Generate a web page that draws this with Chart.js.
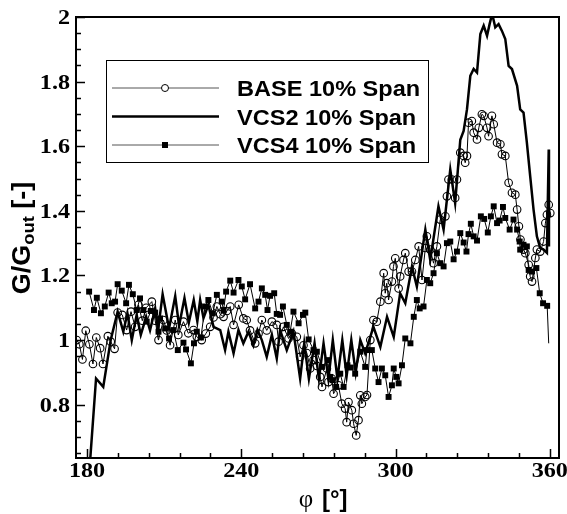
<!DOCTYPE html>
<html>
<head>
<meta charset="utf-8">
<script src="https://cdn.jsdelivr.net/npm/chart.js@4.4.1/dist/chart.umd.min.js"></script>
<style>
  html, body { margin: 0; padding: 0; background: #fff; }
</style>
</head>
<body>
<canvas id="chart" width="567" height="514"></canvas>
<script>
// tick labels
const xTicks = [180, 240, 300, 360];
const yTicks = [0.8, 1, 1.2, 1.4, 1.6, 1.8, 2];
const seriesNames = ['BASE 10% Span', 'VCS2 10% Span', 'VCS4 10% Span'];

// BASE 10% Span
const baseX = [176.0, 177.0, 178.2, 179.5, 180.9, 182.3, 183.6, 185.1, 186.2, 188.1, 189.2, 190.7,
  191.9, 193.7, 195.4, 197.1, 198.7, 200.0, 201.5, 203.0, 205.2, 206.5, 207.8, 209.7, 211.0, 212.3,
  214.3, 215.5, 217.5, 219.4, 221.4, 222.7, 224.6, 226.2, 227.9, 229.2, 230.5, 231.8, 233.1, 234.4,
  235.7, 237.0, 239.0, 240.8, 242.1, 243.4, 245.4, 246.7, 248.0, 249.9, 251.9, 253.8, 254.5, 256.4,
  258.4, 259.7, 261.6, 262.9, 264.2, 265.5, 266.8, 268.1, 269.4, 270.7, 271.4, 273.3, 273.9, 275.2,
  275.9, 277.8, 279.1, 280.4, 281.0, 281.7, 283.0, 283.7, 284.7, 285.6, 286.3, 286.9, 288.2, 288.9,
  290.2, 291.4, 292.7, 294.1, 295.4, 296.0, 296.6, 297.3, 298.6, 299.2, 299.9, 301.2, 301.8, 303.1,
  303.8, 305.1, 306.4, 307.7, 309.0, 310.3, 311.6, 312.2, 313.5, 314.8, 316.1, 317.4, 319.4, 320.0,
  320.6, 321.9, 323.2, 323.9, 325.2, 326.5, 327.1, 327.8, 328.4, 329.7, 330.4, 331.7, 332.4, 333.6,
  334.3, 335.6, 336.2, 337.5, 338.2, 339.5, 340.8, 341.4, 342.7, 344.0, 345.3, 346.6, 347.3, 348.0,
  348.6, 349.8, 350.5, 351.8, 352.4, 353.1, 354.4, 355.0, 356.3, 357.6, 358.3, 358.9, 359.6, 360.2];
const baseY = [1.0, 0.987, 0.94, 1.029, 0.987, 0.926, 1.008, 0.975, 0.926, 1.012, 0.995, 0.973,
  1.085, 1.078, 1.031, 1.088, 1.041, 1.109, 1.06, 1.10, 1.119, 1.06, 1.0, 1.062, 1.03, 0.984,
  1.062, 1.016, 1.057, 1.021, 1.031, 1.01, 1.0, 1.02, 1.041, 1.07, 1.104, 1.08, 1.072, 1.09,
  1.104, 1.047, 1.109, 1.067, 1.062, 1.03, 0.99, 1.02, 1.062, 1.03, 1.057, 1.047, 0.995, 1.041,
  1.005, 1.02, 1.01, 0.948, 0.984, 0.96, 0.912, 0.938, 0.92, 0.886, 0.855, 0.912, 0.870, 0.881,
  0.834, 0.860, 0.803, 0.788, 0.746, 0.808, 0.783, 0.741, 0.705, 0.752, 0.829, 0.803, 0.824, 0.83,
  1.0, 1.062, 1.057, 1.119, 1.207, 1.145, 1.176, 1.124, 1.181, 1.228, 1.253, 1.16, 1.197, 1.248,
  1.269, 1.212, 1.212, 1.248, 1.29, 1.186, 1.285, 1.321, 1.28, 1.238, 1.29, 1.373, 1.383, 1.445,
  1.497, 1.497, 1.44, 1.497, 1.58, 1.57, 1.549, 1.57, 1.673, 1.678, 1.642, 1.621, 1.657, 1.699,
  1.694, 1.657, 1.631, 1.694, 1.668, 1.611, 1.606, 1.575, 1.57, 1.487, 1.456, 1.45, 1.404, 1.352,
  1.311, 1.28, 1.269, 1.233, 1.197, 1.181, 1.254, 1.28, 1.274, 1.305, 1.362, 1.388, 1.419, 1.393];

// VCS2 10% Span
const vcs2X = [180.5, 183.5, 186.3, 189.2, 191.9, 194.1, 195.7, 197.4, 199.3, 200.9, 203.0, 204.5,
  206.5, 207.6, 209.4, 211.9, 214.3, 215.8, 217.9, 219.6, 221.5, 222.9, 224.0, 225.3, 227.2, 229.2,
  231.8, 233.7, 235.0, 237.0, 238.9, 240.8, 242.8, 244.7, 246.3, 248.0, 249.9, 251.9, 253.8, 255.1,
  257.7, 260.3, 262.9, 264.5, 266.3, 268.5, 270.2, 272.0, 273.9, 275.6, 277.4, 279.3, 281.0, 282.8,
  284.5, 286.3, 288.2, 291.4, 294.1, 296.7, 299.3, 301.8, 303.8, 306.4, 308.3, 311.6, 313.5, 316.7,
  318.7, 321.3, 323.2, 325.2, 326.5, 327.8, 329.1, 330.4, 331.7, 333.0, 334.3, 335.6, 336.6, 337.6,
  338.8, 340.1, 341.4, 342.7, 344.0, 345.3, 347.3, 348.5, 349.8, 351.1, 352.4, 353.7, 355.0, 356.3,
  357.6, 358.9, 359.6, 359.7];
const vcs2Y = [0.55, 0.881, 0.855, 1.0, 1.088, 1.026, 1.083, 1.0, 1.078, 1.016, 1.072, 1.03,
  1.098, 1.03, 1.142, 1.036, 1.136, 1.044, 1.13, 1.054, 1.124, 1.058, 1.124, 1.068, 1.109, 1.041,
  1.031, 0.969, 1.026, 0.959, 1.031, 0.99, 1.026, 0.984, 1.031, 1.0, 0.948, 1.016, 0.943, 1.031,
  0.969, 1.026, 0.881, 0.99, 0.88, 0.99, 0.88, 0.99, 0.88, 1.0, 0.88, 1.0, 0.89, 1.0,
  0.9, 1.0, 0.959, 1.041, 0.979, 1.072, 1.010, 1.145, 1.114, 1.228, 1.166, 1.342, 1.248, 1.414,
  1.342, 1.528, 1.424, 1.62, 1.647, 1.714, 1.818, 1.839, 1.828, 1.947, 1.973, 1.942, 1.978, 2.01,
  1.968, 1.978, 1.957, 1.932, 1.849, 1.839, 1.787, 1.714, 1.704, 1.611, 1.507, 1.404, 1.321, 1.285,
  1.28, 1.27, 1.59, 1.29];

// VCS4 10% Span
const vcs4X = [180.8, 182.7, 183.8, 185.4, 186.9, 188.4, 189.6, 190.9, 191.9, 193.5, 195.2, 196.3,
  197.8, 199.3, 200.6, 201.9, 203.2, 204.8, 206.5, 207.8, 208.4, 210.4, 211.9, 213.6, 215.3, 217.5,
  218.5, 220.4, 221.6, 222.7, 224.3, 225.9, 227.2, 228.9, 230.5, 232.4, 233.1, 234.1, 235.7, 237.0,
  238.9, 240.2, 241.5, 243.4, 245.4, 246.7, 248.0, 249.3, 250.2, 251.2, 252.8, 253.8, 255.1, 256.2,
  257.7, 259.0, 260.3, 262.3, 264.0, 264.9, 266.2, 268.1, 269.4, 271.4, 273.5, 274.6, 275.6, 276.9,
  278.5, 279.8, 281.3, 282.6, 284.3, 286.3, 288.2, 288.9, 290.8, 292.1, 293.4, 294.7, 296.0, 297.3,
  298.6, 299.3, 300.3, 301.2, 302.5, 303.8, 305.8, 307.1, 308.3, 309.4, 310.9, 312.2, 313.5, 314.8,
  316.1, 317.4, 318.7, 320.0, 321.3, 322.6, 323.9, 325.2, 326.5, 327.6, 328.4, 329.3, 330.4, 331.7,
  333.2, 334.5, 335.9, 337.1, 338.2, 339.5, 340.5, 341.8, 342.7, 344.4, 345.9, 347.3, 348.3, 348.5,
  349.8, 351.1, 351.8, 353.1, 354.8, 356.1, 357.4, 359.0, 359.6];
const vcs4Y = [1.15, 1.093, 1.131, 1.083, 1.104, 1.147, 1.114, 1.119, 1.173, 1.153, 1.114, 1.171,
  1.142, 1.093, 1.129, 1.093, 1.057, 1.09, 1.085, 1.026, 1.067, 1.036, 1.005, 1.031, 0.969, 0.992,
  0.971, 0.928, 0.99, 1.026, 1.008, 1.104, 1.124, 1.083, 1.14, 1.119, 1.093, 1.15, 1.184, 1.147,
  1.186, 1.166, 1.126, 1.173, 1.098, 1.119, 1.16, 1.14, 1.093, 1.137, 1.145, 1.081, 1.078, 1.104,
  1.047, 1.026, 1.088, 1.052, 1.078, 1.085, 1.002, 0.969, 0.964, 0.917, 0.938, 0.886, 0.876, 0.855,
  0.896, 0.855, 0.922, 0.915, 0.896, 0.964, 0.917, 0.969, 0.969, 0.912, 0.87, 0.912, 0.891, 0.824,
  0.86, 0.912, 0.886, 0.866, 0.922, 1.005, 0.99, 1.072, 1.124, 1.098, 1.104, 1.186, 1.176, 1.207,
  1.269, 1.238, 1.228, 1.300, 1.305, 1.25, 1.274, 1.331, 1.302, 1.274, 1.328, 1.36, 1.321, 1.308,
  1.383, 1.375, 1.333, 1.383, 1.414, 1.362, 1.37, 1.412, 1.378, 1.342, 1.373, 1.342, 1.305, 1.28,
  1.295, 1.29, 1.217, 1.212, 1.223, 1.145, 1.114, 1.106, 0.99];

const toPoints = (xs, ys) => xs.map((x, i) => ({ x: x, y: ys[i] }));

const serif = '"Liberation Serif", "Times New Roman", serif';
const sans = '"Liberation Sans", Arial, Helvetica, sans-serif';

// text with a horizontal stretch factor
function drawText(ctx, text, x, y, font, align, sx) {
  ctx.save();
  ctx.translate(x, y);
  ctx.scale(sx, 1);
  ctx.font = font;
  ctx.textAlign = align;
  ctx.textBaseline = 'alphabetic';
  ctx.fillText(text, 0, 0);
  ctx.restore();
}

const framePlugin = {
  id: 'frame',
  afterDraw(chart) {
    const { ctx, chartArea: a, scales: { x, y } } = chart;
    ctx.save();
    ctx.strokeStyle = '#000';
    ctx.fillStyle = '#000';

    // inward ticks, bottom axis (minor every 12)
    ctx.lineWidth = 1.5;
    ctx.beginPath();
    for (let v = 180; v <= 360; v += 12) {
      const px = Math.round(x.getPixelForValue(v)) + 0.5;
      const len = v % 60 === 0 ? 9 : 5;
      ctx.moveTo(px, a.bottom);
      ctx.lineTo(px, a.bottom - len);
    }
    // inward ticks, left axis (minor every 0.05)
    for (let i = 13; i <= 40; i++) {
      const py = Math.round(y.getPixelForValue(i * 0.05)) + 0.5;
      const len = i % 4 === 0 ? 9 : 5;
      ctx.moveTo(a.left, py);
      ctx.lineTo(a.left + len, py);
    }
    ctx.stroke();

    // frame
    ctx.lineWidth = 2;
    ctx.strokeRect(a.left, a.top, a.right - a.left, a.bottom - a.top);

    // tick labels
    const tickFont = 'bold 21px ' + serif;
    xTicks.forEach(v => drawText(ctx, String(v), x.getPixelForValue(v), 477, tickFont, 'center', 1.15));
    yTicks.forEach(v => drawText(ctx, String(v), 70, y.getPixelForValue(v) + 7, tickFont, 'right', 1.15));

    // x title
    drawText(ctx, 'φ', 306, 507, '25px ' + serif, 'center', 1);
    drawText(ctx, '[°]', 322, 507, 'bold 24px ' + sans, 'left', 1);

    // y title, rotated
    ctx.save();
    ctx.translate(21, 238);
    ctx.rotate(-Math.PI / 2);
    ctx.scale(1.08, 1);
    const big = 'bold 25px ' + sans, small = 'bold 17px ' + sans;
    ctx.font = big;
    const w1 = ctx.measureText('G/G').width, w3 = ctx.measureText(' [-]').width;
    ctx.font = small;
    const w2 = ctx.measureText('out').width;
    const x0 = -(w1 + w2 + w3) / 2;
    ctx.textBaseline = 'alphabetic';
    ctx.textAlign = 'left';
    ctx.font = big; ctx.fillText('G/G', x0, 9);
    ctx.font = small; ctx.fillText('out', x0 + w1, 13);
    ctx.font = big; ctx.fillText(' [-]', x0 + w1 + w2, 9);
    ctx.restore();

    // legend
    ctx.fillStyle = '#fff';
    ctx.fillRect(106, 60, 322, 102);
    ctx.lineWidth = 1;
    ctx.strokeStyle = '#000';
    ctx.strokeRect(106.5, 60.5, 322, 102);
    const rows = [88, 116.5, 145];
    const widths = [1, 2.5, 1];
    rows.forEach((ry, i) => {
      ctx.strokeStyle = widths[i] > 1 ? '#000' : '#555';
      ctx.lineWidth = widths[i];
      ctx.beginPath();
      ctx.moveTo(112, ry);
      ctx.lineTo(219, ry);
      ctx.stroke();
      ctx.fillStyle = '#000';
      drawText(ctx, seriesNames[i], 237, ry + 8, 'bold 22px ' + sans, 'left', 1.07);
    });
    ctx.strokeStyle = '#000';
    ctx.fillStyle = '#fff';
    ctx.lineWidth = 1;
    ctx.beginPath();
    ctx.arc(165, rows[0], 3.5, 0, Math.PI * 2);
    ctx.fill();
    ctx.stroke();
    ctx.fillStyle = '#000';
    ctx.fillRect(162, rows[2] - 3, 6, 6);
    ctx.restore();
  }
};

new Chart(document.getElementById('chart'), {
  type: 'line',
  data: {
    datasets: [
      {
        label: seriesNames[0],
        data: toPoints(baseX, baseY),
        borderColor: '#000',
        borderWidth: 1,
        pointStyle: 'circle',
        pointRadius: 3.8,
        pointBorderWidth: 1.1,
        pointBorderColor: '#000',
        pointBackgroundColor: 'rgba(255,255,255,0)',
        tension: 0
      },
      {
        label: seriesNames[1],
        data: toPoints(vcs2X, vcs2Y),
        borderColor: '#000',
        borderWidth: 2.5,
        pointRadius: 0,
        tension: 0
      },
      {
        label: seriesNames[2],
        data: toPoints(vcs4X, vcs4Y),
        borderColor: '#000',
        borderWidth: 1,
        pointStyle: 'rect',
        pointRadius: ctx => ctx.dataIndex === vcs4X.length - 1 ? 0 : 4.2,
        pointBorderWidth: 0,
        pointBackgroundColor: '#000',
        tension: 0
      }
    ]
  },
  options: {
    responsive: false,
    animation: false,
    devicePixelRatio: 1,
    layout: { padding: { left: 0, right: 8, top: 17, bottom: 0 } },
    plugins: { legend: { display: false }, tooltip: { enabled: false } },
    scales: {
      x: {
        type: 'linear',
        min: 175.7,
        max: 363.6,
        grid: { display: false },
        border: { display: false },
        ticks: { display: false },
        afterFit: s => { s.height = 56; }
      },
      y: {
        type: 'linear',
        min: 0.635,
        max: 2.0,
        grid: { display: false },
        border: { display: false },
        ticks: { display: false },
        afterFit: s => { s.width = 76; }
      }
    }
  },
  plugins: [framePlugin]
});
</script>
</body>
</html>
